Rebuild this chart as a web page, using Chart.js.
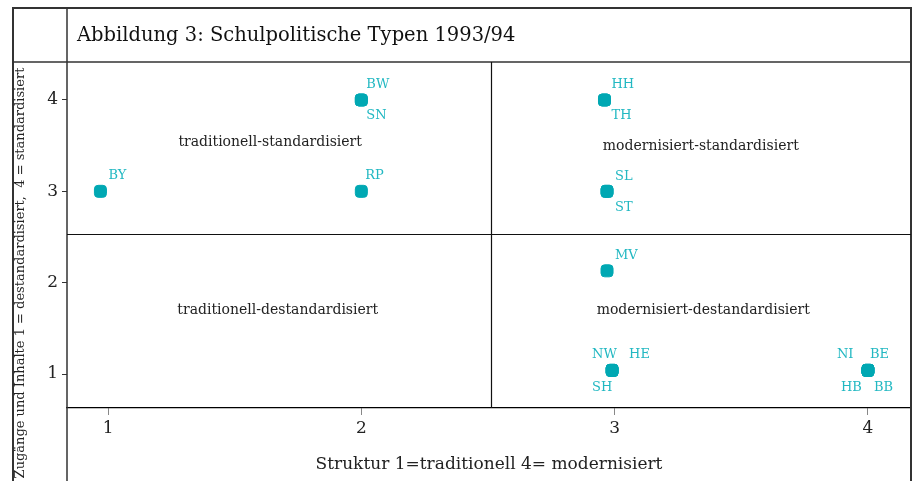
<!DOCTYPE html>
<html>
<head>
<meta charset="utf-8">
<script src="https://cdn.jsdelivr.net/npm/chart.js@4.4.0/dist/chart.umd.min.js"></script>
<style>
  html, body { margin: 0; padding: 0; background: #fff; }
  #wrap { width: 916px; height: 481px; }
</style>
</head>
<body>
<div id="wrap"><canvas id="chart"></canvas></div>
<script>
// Data: states and their scores
const states = ['BY', 'RP', 'BW', 'SN', 'HH', 'TH', 'SL', 'ST', 'MV', 'NW', 'HE', 'SH', 'NI', 'BE', 'HB', 'BB'];
const structure = [0.97, 2, 2, 2, 2.96, 2.96, 2.97, 2.97, 2.97, 2.99, 2.99, 2.99, 4, 4, 4, 4];
const standardisation = [3, 3, 4, 4, 4, 4, 3, 3, 2.13, 1.04, 1.04, 1.04, 1.04, 1.04, 1.04, 1.04];
const xTicks = [1, 2, 3, 4];
const yTicks = [1, 2, 3, 4];
const quadrantNames = ['traditionell-standardisiert', 'modernisiert-standardisiert', 'traditionell-destandardisiert', 'modernisiert-destandardisiert'];
const quadrantX = [1.64, 3.34, 1.67, 3.35];
const quadrantY = [3.54, 3.49, 1.70, 1.70];

const chartTitle = 'Abbildung 3: Schulpolitische Typen 1993/94';
const xTitle = 'Struktur 1=traditionell 4= modernisiert';
const yTitle = 'Zugänge und Inhalte 1 = destandardisiert,  4 = standardisiert';

// Label placement around each marker (pixels)
const labelOffset = {
  BY: [8, -16], RP: [4, -16], BW: [5, -15], SN: [5, 16],
  HH: [7, -15], TH: [7, 16], SL: [8, -15], ST: [8, 16], MV: [8, -15],
  NW: [-20, -16], HE: [17, -16], SH: [-20, 17],
  NI: [-31, -16], BE: [2, -16], HB: [-27, 17], BB: [6, 17]
};

const FONT = '"DejaVu Serif", serif';
const POINT = '#00a8b3';
const LABEL = '#22b8c2';

const framePlugin = {
  id: 'frame',
  beforeDatasetsDraw(chart) {
    const { ctx, chartArea: a, scales: { x, y } } = chart;
    ctx.save();
    // outer frame and title row
    ctx.strokeStyle = '#333';
    ctx.lineWidth = 2;
    ctx.beginPath();
    ctx.moveTo(13, chart.height); ctx.lineTo(13, 8); ctx.lineTo(911, 8); ctx.lineTo(911, chart.height);
    ctx.stroke();
    ctx.lineWidth = 1.5;
    ctx.beginPath();
    ctx.moveTo(13, a.top); ctx.lineTo(911, a.top);
    ctx.moveTo(a.left, 8); ctx.lineTo(a.left, chart.height);
    ctx.stroke();
    // quadrant dividers
    ctx.strokeStyle = '#111';
    ctx.lineWidth = 1.2;
    const xd = Math.round(x.getPixelForValue(2.51)) + 0.5;
    const yd = Math.round(y.getPixelForValue(2.53)) + 0.5;
    ctx.beginPath();
    ctx.moveTo(xd, a.top); ctx.lineTo(xd, a.bottom);
    ctx.moveTo(a.left, yd); ctx.lineTo(a.right, yd);
    ctx.stroke();
    // title
    ctx.fillStyle = '#111';
    ctx.font = '19.5px ' + FONT;
    ctx.textBaseline = 'middle';
    ctx.textAlign = 'left';
    ctx.fillText(chartTitle, 77, 36);
    // y title
    ctx.save();
    ctx.translate(21, 273);
    ctx.rotate(-Math.PI / 2);
    ctx.textAlign = 'center';
    ctx.font = '13px ' + FONT;
    ctx.fillStyle = '#222';
    ctx.fillText(yTitle, 0, 0);
    ctx.restore();
    // quadrant names
    ctx.font = '14px ' + FONT;
    ctx.textAlign = 'center';
    ctx.fillStyle = '#222';
    quadrantNames.forEach((name, i) => {
      ctx.fillText(name, x.getPixelForValue(quadrantX[i]), y.getPixelForValue(quadrantY[i]));
    });
    ctx.restore();
  },
  afterDatasetsDraw(chart) {
    const { ctx, scales: { x, y } } = chart;
    ctx.save();
    ctx.font = '13px ' + FONT;
    ctx.fillStyle = LABEL;
    ctx.textAlign = 'left';
    ctx.textBaseline = 'middle';
    states.forEach((code, i) => {
      const off = labelOffset[code] || [6, -14];
      ctx.fillText(code, x.getPixelForValue(structure[i]) + off[0], y.getPixelForValue(standardisation[i]) + off[1]);
    });
    ctx.restore();
  }
};

new Chart(document.getElementById('chart'), {
  type: 'scatter',
  data: {
    datasets: [{
      data: states.map((s, i) => ({ x: structure[i], y: standardisation[i] })),
      backgroundColor: POINT,
      borderColor: POINT,
      pointStyle: 'rectRounded',
      pointRadius: 7,
      pointHoverRadius: 7
    }]
  },
  options: {
    responsive: true,
    maintainAspectRatio: false,
    animation: false,
    layout: { autoPadding: false, padding: { left: 13, top: 62, right: 5, bottom: 0 } },
    plugins: { legend: { display: false }, tooltip: { enabled: false } },
    scales: {
      x: {
        type: 'linear',
        min: 0.838,
        max: 4.17,
        afterBuildTicks: s => { s.ticks = xTicks.map(v => ({ value: v })); },
        afterFit: s => { s.height = 73; s.paddingLeft = 0; s.paddingRight = 0; },
        grid: { drawOnChartArea: false, tickLength: 7, color: '#888' },
        border: { display: true, color: '#000', width: 1.2 },
        ticks: { font: { family: FONT, size: 17 }, color: '#222', padding: 3 },
        title: { display: true, text: xTitle, font: { family: FONT, size: 17 }, color: '#222', padding: { top: 0, bottom: 6 } }
      },
      y: {
        type: 'linear',
        min: 0.628,
        max: 4.416,
        afterBuildTicks: s => { s.ticks = yTicks.map(v => ({ value: v })); },
        afterFit: s => { s.width = 54; s.paddingTop = 0; s.paddingBottom = 0; },
        grid: { drawOnChartArea: false, tickLength: 5, color: '#333' },
        border: { display: false },
        ticks: { font: { family: FONT, size: 17 }, color: '#222', padding: 4 }
      }
    }
  },
  plugins: [framePlugin]
});
</script>
</body>
</html>
